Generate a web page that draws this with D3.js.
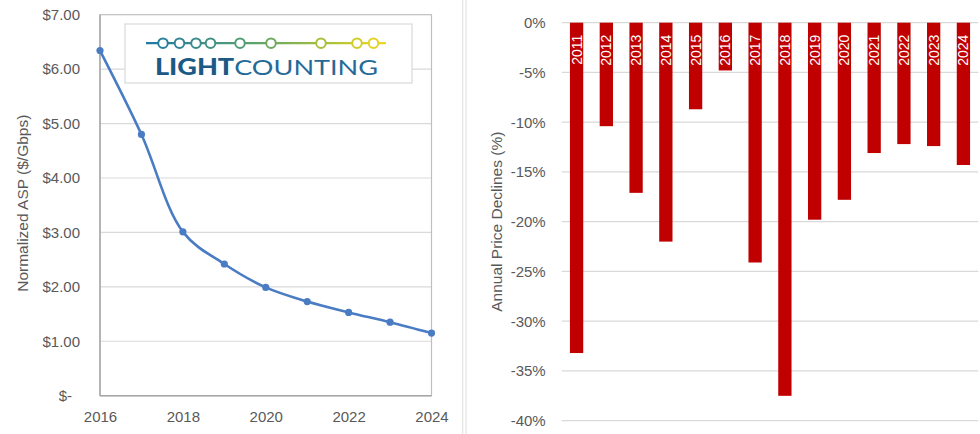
<!DOCTYPE html>
<html>
<head>
<meta charset="utf-8">
<script src="https://cdn.jsdelivr.net/npm/d3@7"></script>
<style>
  html, body { margin: 0; padding: 0; background: #fff; }
  svg { display: block; font-family: "Liberation Sans", Arial, sans-serif; }
</style>
</head>
<body>
<svg id="chart" width="980" height="434"></svg>
<script>
// Normalized ASP by year ($/Gbps)
const aspYears = [2016, 2017, 2018, 2019, 2020, 2021, 2022, 2023, 2024];
const aspValues = [6.34, 4.80, 3.01, 2.42, 1.99, 1.73, 1.53, 1.35, 1.15];
const aspYTicks = [0, 1, 2, 3, 4, 5, 6, 7];
const aspXTicks = [2016, 2018, 2020, 2022, 2024];

// Annual price declines (%)
const declineYears = ["2011", "2012", "2013", "2014", "2015", "2016", "2017",
                      "2018", "2019", "2020", "2021", "2022", "2023", "2024"];
const declineValues = [-33.2, -10.4, -17.1, -22.0, -8.7, -4.8, -24.1,
                       -37.5, -19.8, -17.8, -13.1, -12.2, -12.4, -14.3];
const declineTicks = [0, -5, -10, -15, -20, -25, -30, -35, -40];

// Logo dots along the line
const logoDots = [163, 179.5, 196, 210.5, 240, 271, 321, 357, 373.5];

const svg = d3.select("#chart");
const textColor = "#595959";
const gridColor = "#d9d9d9";

// ---------- Left: normalized ASP line chart ----------
const L = { left: 100, right: 431.5, top: 14.7, bottom: 395.7 };
const xL = d3.scaleLinear().domain([2016, 2024]).range([L.left, L.right]);
const yL = d3.scaleLinear().domain([0, 7]).range([L.bottom, L.top]);

const gL = svg.append("g");

// horizontal gridlines
gL.append("g")
  .selectAll("line")
  .data(aspYTicks.filter(d => d > 0 && d < 7))
  .join("line")
  .attr("x1", L.left).attr("x2", L.right)
  .attr("y1", d => yL(d)).attr("y2", d => yL(d))
  .attr("stroke", gridColor).attr("stroke-width", 1.2);

// plot frame
gL.append("rect")
  .attr("x", L.left).attr("y", L.top)
  .attr("width", L.right - L.left).attr("height", L.bottom - L.top)
  .attr("fill", "none").attr("stroke", "#bfbfbf").attr("stroke-width", 1.2);
gL.append("line")
  .attr("x1", L.left).attr("x2", L.left).attr("y1", L.top).attr("y2", L.bottom)
  .attr("stroke", "#a6a6a6").attr("stroke-width", 1.4);
gL.append("line")
  .attr("x1", L.left).attr("x2", L.right).attr("y1", L.bottom).attr("y2", L.bottom)
  .attr("stroke", "#a6a6a6").attr("stroke-width", 1.4);

// y axis labels
const yAxisL = d3.axisLeft(yL)
  .tickValues(aspYTicks)
  .tickSize(0)
  .tickPadding(20)
  .tickFormat(d => d === 0 ? "$-" : "$" + d3.format(".2f")(d));
const yAxG = gL.append("g").attr("transform", `translate(${L.left},0)`).call(yAxisL);
yAxG.select(".domain").remove();
yAxG.selectAll("text")
  .attr("fill", textColor)
  .style("font-size", "15px")
  .style("font-family", "Liberation Sans, Arial, sans-serif")
  .attr("dx", d => d === 0 ? -8 : 0);

// x axis labels
const xAxisL = d3.axisBottom(xL)
  .tickValues(aspXTicks)
  .tickSize(0)
  .tickPadding(16)
  .tickFormat(d3.format("d"));
const xAxG = gL.append("g").attr("transform", `translate(0,${L.bottom})`).call(xAxisL);
xAxG.select(".domain").remove();
xAxG.selectAll("text")
  .attr("fill", textColor)
  .style("font-size", "15px")
  .style("font-family", "Liberation Sans, Arial, sans-serif");

// y axis title
gL.append("text")
  .attr("transform", `translate(28,${(L.top + L.bottom) / 2 - 2}) rotate(-90)`)
  .attr("text-anchor", "middle")
  .attr("fill", textColor)
  .style("font-size", "15.5px")
  .text("Normalized ASP ($/Gbps)");

// logo panel
const logo = gL.append("g");
logo.append("rect")
  .attr("x", 125).attr("y", 24).attr("width", 287).attr("height", 59)
  .attr("fill", "#fff").attr("stroke", "#d9d9d9").attr("stroke-width", 1.2);
const defs = svg.append("defs");
const grad = defs.append("linearGradient")
  .attr("id", "logoGrad").attr("gradientUnits", "userSpaceOnUse")
  .attr("x1", 146).attr("x2", 386).attr("y1", 0).attr("y2", 0);
grad.append("stop").attr("offset", "0%").attr("stop-color", "#1f78a8");
grad.append("stop").attr("offset", "45%").attr("stop-color", "#5aa36a");
grad.append("stop").attr("offset", "75%").attr("stop-color", "#a8bf3a");
grad.append("stop").attr("offset", "100%").attr("stop-color", "#f0d820");
logo.append("line")
  .attr("x1", 146).attr("x2", 386).attr("y1", 43.2).attr("y2", 43.2)
  .attr("stroke", "url(#logoGrad)").attr("stroke-width", 2.2);
const dotColor = d3.scaleLinear()
  .domain([146, 255, 320, 386])
  .range(["#1f78a8", "#5aa36a", "#a8bf3a", "#f0d820"]);
logo.selectAll("circle.dot")
  .data(logoDots)
  .join("circle")
  .attr("class", "dot")
  .attr("cx", d => d).attr("cy", 43.2).attr("r", 4.8)
  .attr("fill", "#fff").attr("stroke", d => dotColor(d)).attr("stroke-width", 2);
const logoText = logo.append("text")
  .attr("x", 155).attr("y", 74.5)
  .attr("textLength", 223).attr("lengthAdjust", "spacingAndGlyphs")
  .style("font-family", "Lato, 'Open Sans', sans-serif")
  .style("font-size", "22px");
logoText.append("tspan").attr("font-weight", "900").attr("fill", "#1c5a86").text("LIGHT");
logoText.append("tspan").attr("font-weight", "400").attr("fill", "#246a98").text("COUNTING");

// line and markers
const line = d3.line()
  .x((d, i) => xL(aspYears[i]))
  .y(d => yL(d))
  .curve(d3.curveCatmullRom.alpha(0.5));
gL.append("path")
  .datum(aspValues)
  .attr("d", line)
  .attr("fill", "none")
  .attr("stroke", "#4a7cc4")
  .attr("stroke-width", 2.6)
  .attr("stroke-linejoin", "round");
gL.selectAll("circle.pt")
  .data(aspValues)
  .join("circle")
  .attr("class", "pt")
  .attr("cx", (d, i) => xL(aspYears[i]))
  .attr("cy", d => yL(d))
  .attr("r", 3.6)
  .attr("fill", "#4a7cc4");

// ---------- Divider ----------
svg.append("line").attr("x1", 462.7).attr("x2", 462.7).attr("y1", 0).attr("y2", 434)
  .attr("stroke", "#e3e3e3").attr("stroke-width", 1.2);
svg.append("line").attr("x1", 466).attr("x2", 466).attr("y1", 0).attr("y2", 434)
  .attr("stroke", "#e3e3e3").attr("stroke-width", 1.2);

// ---------- Right: annual price declines ----------
const R = { left: 561.7, right: 978.3, top: 22.7, bottom: 420.7 };
const xR = d3.scaleBand().domain(declineYears).range([R.left, R.right])
  .paddingInner(0.553).paddingOuter(0.2765);
const yR = d3.scaleLinear().domain([-40, 0]).range([R.bottom, R.top]);

const gR = svg.append("g");
gR.append("g")
  .selectAll("line")
  .data(declineTicks)
  .join("line")
  .attr("x1", R.left).attr("x2", R.right)
  .attr("y1", d => yR(d)).attr("y2", d => yR(d))
  .attr("stroke", gridColor).attr("stroke-width", 1.2);

const yAxisR = d3.axisLeft(yR)
  .tickValues(declineTicks)
  .tickSize(0)
  .tickPadding(16)
  .tickFormat(d => d + "%");
const yAxRG = gR.append("g").attr("transform", `translate(${R.left},0)`).call(yAxisR);
yAxRG.select(".domain").remove();
yAxRG.selectAll("text")
  .attr("fill", textColor)
  .style("font-size", "15px")
  .style("font-family", "Liberation Sans, Arial, sans-serif");

gR.append("text")
  .attr("transform", `translate(502,${(R.top + R.bottom) / 2}) rotate(-90)`)
  .attr("text-anchor", "middle")
  .attr("fill", textColor)
  .style("font-size", "15.5px")
  .text("Annual Price Declines (%)");

gR.selectAll("rect.bar")
  .data(declineValues)
  .join("rect")
  .attr("class", "bar")
  .attr("x", (d, i) => xR(declineYears[i]))
  .attr("width", xR.bandwidth())
  .attr("y", yR(0))
  .attr("height", d => yR(d) - yR(0))
  .attr("fill", "#c00000");

gR.selectAll("text.blabel")
  .data(declineYears)
  .join("text")
  .attr("class", "blabel")
  .attr("transform", d => `translate(${xR(d) + xR.bandwidth() / 2 + 5},${yR(0) + 12}) rotate(-90)`)
  .attr("text-anchor", "end")
  .attr("fill", "#fff")
  .style("font-size", "14px")
  .text(d => d);
</script>
</body>
</html>
